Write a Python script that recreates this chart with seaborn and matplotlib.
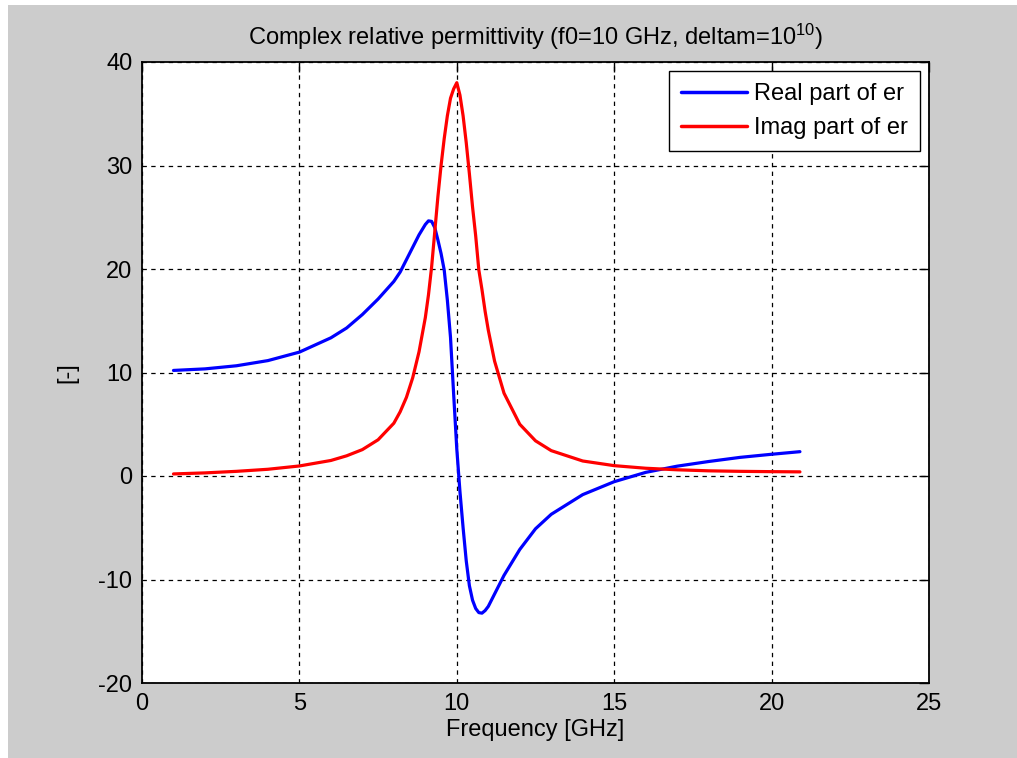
import matplotlib
matplotlib.use("Agg")
import matplotlib.pyplot as plt
import seaborn as sns
import pandas as pd
from matplotlib.patches import Rectangle

# ---- data ----
freq_ghz = [1, 2, 3, 4, 5, 6, 6.5, 7, 7.5, 8, 8.2, 8.4, 8.6, 8.8, 9.0, 9.1, 9.2,
            9.3, 9.4, 9.5, 9.6, 9.7, 9.8, 9.9, 10.0, 10.1, 10.2, 10.3, 10.4, 10.5,
            10.6, 10.7, 10.8, 10.9, 11.0, 11.2, 11.5, 12, 12.5, 13, 14, 15, 16,
            17, 18, 19, 20, 20.9]
real_er = [10.2, 10.35, 10.65, 11.15, 11.97, 13.35, 14.3, 15.6, 17.1, 18.8, 19.7,
           20.9, 22.1, 23.3, 24.3, 24.65, 24.6, 24.0, 22.8, 21.5, 19.9, 17.0,
           13.4, 7.9, 2.6, -1.5, -5.0, -8.2, -10.6, -12.0, -12.8, -13.2, -13.25,
           -13.0, -12.6, -11.4, -9.6, -7.1, -5.1, -3.7, -1.8, -0.55, 0.35, 0.95,
           1.4, 1.8, 2.1, 2.35]
imag_er = [0.2, 0.3, 0.45, 0.65, 0.97, 1.5, 1.95, 2.55, 3.5, 5.1, 6.2, 7.6, 9.5,
           12.0, 15.3, 17.5, 20.2, 23.6, 27.0, 30.0, 32.6, 34.8, 36.5, 37.4, 38.0,
           36.8, 34.8, 32.2, 29.2, 26.0, 23.2, 19.9, 18.0, 15.9, 14.1, 11.1, 8.0,
           5.0, 3.4, 2.45, 1.45, 1.0, 0.75, 0.6, 0.5, 0.45, 0.42, 0.4]
series_names = ["Real part of er", "Imag part of er"]
x_ticks = [0, 5, 10, 15, 20, 25]
y_ticks = [-20, -10, 0, 10, 20, 30, 40]

sns.set_style("white")
plt.rcParams['font.family'] = ['Liberation Sans', 'DejaVu Sans']
plt.rcParams['mathtext.fontset'] = 'custom'
plt.rcParams['mathtext.rm'] = 'Liberation Sans'
plt.rcParams['mathtext.it'] = 'Liberation Sans:italic'
plt.rcParams['axes.unicode_minus'] = False
plt.rcParams['text.color'] = 'black'
plt.rcParams['axes.labelcolor'] = 'black'

df = pd.concat([
    pd.DataFrame({"f": freq_ghz, "v": real_er, "s": series_names[0]}),
    pd.DataFrame({"f": freq_ghz, "v": imag_er, "s": series_names[1]}),
])

fig = plt.figure(figsize=(10.17, 7.58), dpi=100, facecolor="white")
fig.patches.append(Rectangle((8 / 1017, -0.05), 1.1, 1.05 - 5 / 758,
                             transform=fig.transFigure,
                             facecolor="#cccccc", edgecolor="none", zorder=-10))
ax = fig.add_axes([142 / 1017, 1 - 683 / 758, (929 - 142) / 1017, (683 - 62) / 758])
ax.set_facecolor("white")

sns.lineplot(data=df, x="f", y="v", hue="s", palette=["#0000ff", "#ff0000"],
             linewidth=2.3, ax=ax, sort=False, estimator=None)

ax.set_xlim(0, 25)
ax.set_ylim(-20, 40)
ax.set_xticks(x_ticks)
ax.set_yticks(y_ticks)
ax.grid(True, color="black", linestyle=(0, (3.5, 3.5)), linewidth=0.9)
ax.tick_params(direction="in", length=7, width=1, top=True, right=True,
               labelsize=17, pad=7, colors="black")
for sp in ax.spines.values():
    sp.set_color("black")
    sp.set_linewidth(1.3)

ax.set_xlabel("Frequency [GHz]", fontsize=17, labelpad=3, color="black")
ax.set_ylabel("[-]", fontsize=17, labelpad=14, color="black")
ax.set_title("Complex relative permittivity (f0=10 GHz, deltam=10$^{10}$)",
             fontsize=17, pad=12, color="black")

leg = ax.legend(loc="upper right", fontsize=17, frameon=True, fancybox=False,
                edgecolor="black", framealpha=1, handlelength=2.8,
                borderaxespad=0.4, handletextpad=0.3, labelspacing=0.5,
                borderpad=0.5)
leg.get_frame().set_linewidth(1.0)
for h in leg.get_lines():
    h.set_linewidth(2.5)
for t in leg.get_texts():
    t.set_color("black")

fig.savefig("out.png", dpi=100, facecolor=fig.get_facecolor())
